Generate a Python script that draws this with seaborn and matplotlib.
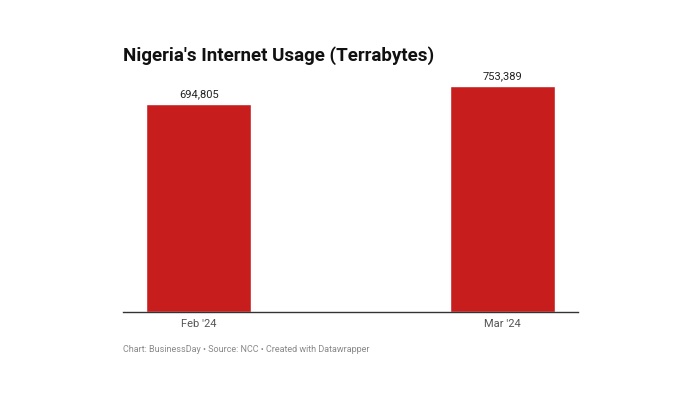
import matplotlib
matplotlib.use("Agg")
import matplotlib.pyplot as plt
import seaborn as sns
import pandas as pd

months = ["Feb '24", "Mar '24"]
usage = [694805, 753389]

sns.set_style("white")
plt.rcParams['font.family'] = ['Roboto', 'DejaVu Sans']

df = pd.DataFrame({"month": months, "usage": usage})

fig = plt.figure(figsize=(7, 4), dpi=100)
ax = fig.add_axes([0.176, 0.22, 0.65, 0.565])
sns.barplot(data=df, x="month", y="usage", color="#C71E1D", width=0.346,
            saturation=1, ax=ax)

ax.set_xlim(-0.749, 1.751 - 1.0 + 0.0)
ax.set_xlim(-0.249, 1.251)
ax.set_ylim(0, max(usage))
for i, v in enumerate(usage):
    ax.text(i, v + max(usage) * 0.02, f"{v:,}", ha="center", va="bottom",
            fontsize=8, color="#222222", clip_on=False)

for s in ["top", "right", "left"]:
    ax.spines[s].set_visible(False)
ax.spines["bottom"].set_color("#333333")
ax.spines["bottom"].set_linewidth(1)
ax.set_yticks([])
ax.set_xlabel("")
ax.set_ylabel("")
ax.tick_params(axis="x", length=0, labelsize=8, labelcolor="#555555", pad=5)

fig.text(0.176, 0.862, "Nigeria's Internet Usage (Terrabytes)", fontsize=13.5,
         fontweight="bold", color="#111111", va="center")
fig.text(0.176, 0.125, "Chart: BusinessDay • Source: NCC • Created with Datawrapper",
         fontsize=6.5, color="#888888", va="center")

fig.savefig("out.png", dpi=100)
